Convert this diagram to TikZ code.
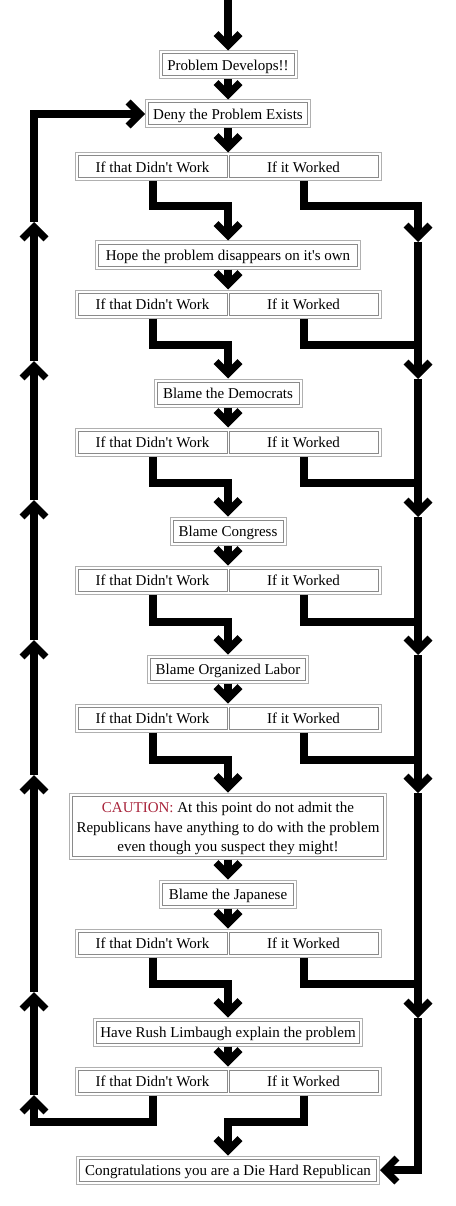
\documentclass[tikz,border=0pt]{standalone}
\usepackage{fontspec}
\newfontfamily\tnr{Liberation Serif}
\usetikzlibrary{arrows.meta}
\definecolor{outerb}{HTML}{B0B0B0}
\definecolor{innerb}{HTML}{8A8A8A}
\definecolor{cautred}{HTML}{A8233A}
\tikzset{
  txt/.style={font=\tnr\fontsize{15}{19.5}\selectfont, align=center, text=black},
  outerbox/.style={draw=outerb, line width=1pt, inner sep=0pt},
  cellbox/.style={draw=innerb, line width=1pt, inner sep=0pt, txt, text height=10.8pt, text depth=0pt},
  plainbox/.style={draw=innerb, line width=1pt, inner sep=0pt},
  flow/.style={line width=8pt, line join=miter, line cap=butt},
  arr/.style={flow, -{Straight Barb[length=12pt,width=24pt,line width=7pt]}},
}
% name, top, bottom, width, text
\newcommand{\flowbox}[5]{%
  \node[outerbox, minimum width=#4pt, minimum height={#3-#2}] (#1) at (228,{(#2+#3)/2}) {};
  \node[cellbox, minimum width={#4-6}, minimum height={#3-#2-6}] (#1i) at (228,{(#2+#3)/2}) {#5};
}
% index, top, bottom
\newcommand{\splitrow}[3]{%
  \node[outerbox, minimum width=306pt, minimum height={#3-#2}] (s#1) at (228,{(#2+#3)/2}) {};
  \node[cellbox, minimum width=149pt, minimum height={#3-#2-6}] (d#1) at (152.5,{(#2+#3)/2}) {If that Didn't Work};
  \node[cellbox, minimum width=149pt, minimum height={#3-#2-6}] (w#1) at (303.5,{(#2+#3)/2}) {If it Worked};
}
\begin{document}
\begin{tikzpicture}[x=1pt,y=-1pt]
\useasboundingbox (0,0) rectangle (455,1206);
% boxes
\flowbox{pd}{51}{79}{138}{Problem Develops!!}
\flowbox{deny}{100}{128}{165}{Deny the Problem Exists}
\splitrow{1}{153}{181}
\flowbox{hope}{241}{269}{265}{Hope the problem disappears on it's own}
\splitrow{2}{290}{318}
\flowbox{dem}{379}{407}{148}{Blame the Democrats}
\splitrow{3}{428}{456}
\flowbox{cong}{517}{545}{116}{Blame Congress}
\splitrow{4}{566}{594}
\flowbox{lab}{655}{683}{161}{Blame Organized Labor}
\splitrow{5}{704}{732}
% caution box (three lines)
\node[outerbox, minimum width=317pt, minimum height=66pt] (caut) at (228,826) {};
\node[plainbox, minimum width=311pt, minimum height=60pt] (cauti) at (228,826) {};
\node[txt, anchor=base] (cautt) at (228,851.5) {\textcolor{cautred}{CAUTION:} At this point do not admit the\\Republicans have anything to do with the problem\\even though you suspect they might!};
\flowbox{jap}{880}{908}{137}{Blame the Japanese}
\splitrow{6}{929}{957}
\flowbox{rush}{1018}{1046}{269}{Have Rush Limbaugh explain the problem}
\splitrow{7}{1067}{1095}
\flowbox{win}{1156}{1184}{303}{Congratulations you are a Die Hard Republican}
% junction coordinates
\coordinate (start) at (228,0);
\coordinate (j1) at (228,206);
\coordinate (j2) at (228,345);
\coordinate (j3) at (228,483);
\coordinate (j4) at (228,622);
\coordinate (j5) at (228,760);
\coordinate (j6) at (228,984);
\coordinate (j7) at (228,1122);
\coordinate (Rtop) at (418,206);
\coordinate (RA1) at (418,242);
\coordinate (RA2) at (418,379);
\coordinate (RA3) at (418,517);
\coordinate (RA4) at (418,655);
\coordinate (RA5) at (418,793);
\coordinate (RA6) at (418,1018);
\coordinate (Rend) at (418,1170);
\coordinate (Lbot) at (34,1122);
\coordinate (LA7) at (34,1095);
\coordinate (LA6) at (34,992);
\coordinate (LA5) at (34,775);
\coordinate (LA4) at (34,640);
\coordinate (LA3) at (34,500);
\coordinate (LA2) at (34,361);
\coordinate (LA1) at (34,222);
\coordinate (Ltop) at (34,114);
% main spine
\draw[arr] (start) -- (pd);
\draw[arr] (pd) -- (deny);
\draw[arr] (deny) -- (s1.north);
\draw[arr] (hope) -- (s2.north);
\draw[arr] (dem) -- (s3.north);
\draw[arr] (cong) -- (s4.north);
\draw[arr] (lab) -- (s5.north);
\draw[arr] (caut) -- (jap);
\draw[arr] (jap) -- (s6.north);
\draw[arr] (rush) -- (s7.north);
% "didn't work" branches
\draw[arr] (d1.south |- s1.south) -- (d1.south |- j1) -- (j1) -- (hope);
\draw[arr] (d2.south |- s2.south) -- (d2.south |- j2) -- (j2) -- (dem);
\draw[arr] (d3.south |- s3.south) -- (d3.south |- j3) -- (j3) -- (cong);
\draw[arr] (d4.south |- s4.south) -- (d4.south |- j4) -- (j4) -- (lab);
\draw[arr] (d5.south |- s5.south) -- (d5.south |- j5) -- (j5) -- (caut);
\draw[arr] (d6.south |- s6.south) -- (d6.south |- j6) -- (j6) -- (rush);
\draw[arr] (d7.south |- s7.south) -- (d7.south |- j7) -- (Lbot) -- (LA7);
% "worked" branches
\draw[arr] (w1.south |- s1.south) -- (w1.south |- j1) -- (Rtop) -- (RA1);
\draw[flow] (w2.south |- s2.south) -- (w2.south |- j2) -- (Rtop |- j2);
\draw[flow] (w3.south |- s3.south) -- (w3.south |- j3) -- (Rtop |- j3);
\draw[flow] (w4.south |- s4.south) -- (w4.south |- j4) -- (Rtop |- j4);
\draw[flow] (w5.south |- s5.south) -- (w5.south |- j5) -- (Rtop |- j5);
\draw[flow] (w6.south |- s6.south) -- (w6.south |- j6) -- (Rtop |- j6);
\draw[arr] (w7.south |- s7.south) -- (w7.south |- j7) -- (j7) -- (win);
% right column
\draw[arr] (RA1) -- (RA2);
\draw[arr] (RA2) -- (RA3);
\draw[arr] (RA3) -- (RA4);
\draw[arr] (RA4) -- (RA5);
\draw[arr] (RA5) -- (RA6);
\draw[arr] (RA6) -- (Rend) -- (win.east);
% left column
\draw[arr] (LA7) -- (LA6);
\draw[arr] (LA6) -- (LA5);
\draw[arr] (LA5) -- (LA4);
\draw[arr] (LA4) -- (LA3);
\draw[arr] (LA3) -- (LA2);
\draw[arr] (LA2) -- (LA1);
\draw[arr] (LA1) -- (Ltop) -- (deny.west);
\end{tikzpicture}
\end{document}
